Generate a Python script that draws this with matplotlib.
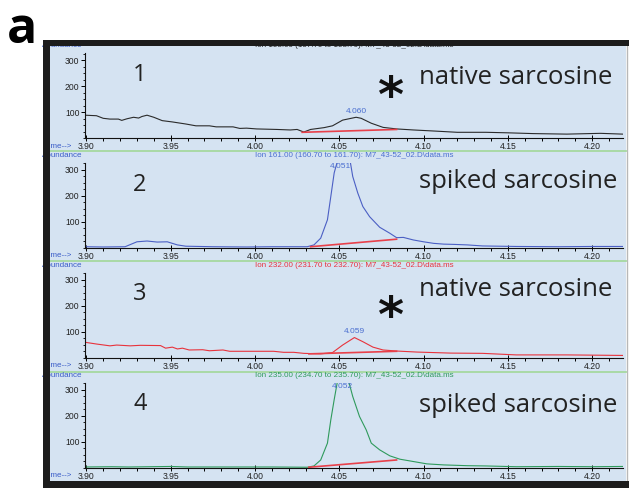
import matplotlib
matplotlib.use("Agg")
import matplotlib.pyplot as plt
from matplotlib.patches import Rectangle
from matplotlib.lines import Line2D
from matplotlib.ticker import MultipleLocator

# extracted ion chromatograms (retention time in min, abundance)
rt_158 = [3.899, 3.906, 3.910, 3.914, 3.919, 3.921, 3.924, 3.928, 3.931, 3.933,
          3.936, 3.940, 3.945, 3.951, 3.959, 3.965, 3.973, 3.977, 3.987, 3.991,
          3.995, 4.001, 4.013, 4.021, 4.025, 4.029, 4.033, 4.041, 4.046, 4.052,
          4.060, 4.063, 4.069, 4.076, 4.084, 4.094, 4.106, 4.120, 4.137, 4.150,
          4.165, 4.185, 4.205, 4.218]
ab_158 = [88, 86, 76, 73, 73, 68, 74, 80, 77, 83,
          88, 80, 67, 62, 54, 47, 47, 43, 43, 37,
          38, 35, 33, 31, 33, 23, 33, 40, 47, 69,
          80, 76, 57, 41, 35, 31, 27, 22, 22, 20,
          17, 15, 18, 15]

rt_161 = [3.899, 3.910, 3.923, 3.930, 3.936, 3.942, 3.948, 3.954, 3.959, 3.975,
          3.995, 4.010, 4.031, 4.035, 4.039, 4.043, 4.045, 4.047, 4.049, 4.051,
          4.054, 4.0565, 4.058, 4.061, 4.064, 4.068, 4.074, 4.080, 4.084, 4.088,
          4.094, 4.100, 4.106, 4.112, 4.118, 4.126, 4.135, 4.155, 4.180, 4.200,
          4.218]
ab_161 = [3, 2, 3, 22, 25, 21, 22, 10, 5, 3,
          2, 3, 3, 10, 36, 107, 197, 288, 335, 360,
          350, 332, 274, 210, 158, 119, 78, 55, 38, 39,
          29, 22, 16, 13, 12, 10, 6, 4, 3, 4,
          4]

rt_232 = [3.899, 3.906, 3.914, 3.918, 3.926, 3.932, 3.944, 3.947, 3.951, 3.954,
          3.957, 3.961, 3.969, 3.973, 3.981, 3.985, 4.011, 4.017, 4.023, 4.029,
          4.039, 4.046, 4.052, 4.059, 4.064, 4.070, 4.076, 4.084, 4.096, 4.116,
          4.135, 4.155, 4.185, 4.218]
ab_232 = [59, 52, 45, 48, 45, 47, 46, 36, 40, 33,
          36, 29, 30, 26, 29, 24, 24, 20, 20, 16,
          14, 19, 48, 77, 61, 40, 29, 25, 21, 17,
          16, 10, 10, 8]

rt_235 = [3.899, 3.915, 3.925, 3.950, 3.960, 3.990, 4.010, 4.031, 4.035, 4.039,
          4.043, 4.045, 4.047, 4.049, 4.052, 4.0555, 4.058, 4.062, 4.066, 4.069,
          4.074, 4.080, 4.086, 4.094, 4.102, 4.112, 4.126, 4.137, 4.155, 4.180,
          4.200, 4.218]
ab_235 = [2, 3, 2, 4, 2, 2, 2, 1, 6, 29,
          94, 184, 262, 335, 360, 335, 274, 197, 145, 94,
          68, 45, 32, 23, 14, 10, 7, 6, 3, 4,
          3, 4]

ions = ["158.00 (157.70 to 158.70)", "161.00 (160.70 to 161.70)",
        "232.00 (231.70 to 232.70)", "235.00 (234.70 to 235.70)"]
peak_rt = [4.060, 4.051, 4.059, 4.052]
# integration baselines under each peak: (start rt, end rt), (start ab, end ab)
base_rt = [(4.028, 4.084), (4.033, 4.084), (4.032, 4.084), (4.032, 4.084)]
base_ab = [(22, 33), (3, 32), (14, 24), (1, 29)]
names = ["native sarcosine", "spiked sarcosine", "native sarcosine", "spiked sarcosine"]
marked = [True, False, True, False]
time_ticks = [3.90, 3.95, 4.00, 4.05, 4.10, 4.15, 4.20]
ab_ticks = [100, 200, 300]

traces = [(rt_158, ab_158), (rt_161, ab_161), (rt_232, ab_232), (rt_235, ab_235)]
trace_colors = ["#2b2b2b", "#4b5fc4", "#e8333c", "#2f9a5c"]
head_colors = ["#222222", "#4b6fd0", "#e8333c", "#2f9a5c"]
label_dy = [4.5, -3, 4, -3]   # rt label offset from peak top, points
name_rise = [54, 60, 61, 56]  # baseline of the big caption above the x axis, px
bg = "#d5e3f2"
narrow = ["Liberation Sans Narrow", "Liberation Sans", "DejaVu Sans"]
big = ["Open Sans", "DejaVu Sans"]

W, H = 629, 488
fig = plt.figure(figsize=(W / 100, H / 100), dpi=100)


def fx(px):
    return px / W


def fy(py):
    return 1 - py / H


def rect(x0, y0, x1, y1, color, z):
    fig.add_artist(Rectangle((fx(x0), fy(y1)), fx(x1) - fx(x0), fy(y0) - fy(y1),
                             transform=fig.transFigure, facecolor=color,
                             edgecolor="none", zorder=z))


# screen background and black frame
rect(50, 46, 626, 481, bg, -2)
fig.add_artist(Line2D([fx(626.5)] * 2, [fy(46), fy(481)], color="#b8b8b8", lw=1,
                      transform=fig.transFigure, zorder=-1))
rect(43, 40, 629, 46, "#1c1c1c", 20)
rect(43, 40, 50, 488, "#1c1c1c", 20)
rect(43, 481, 629, 488, "#1c1c1c", 20)

fig.text(fx(22), fy(30), "a", fontsize=36, fontweight="bold", family=big,
         ha="center", va="center", color="black")

bottoms = [138, 247.5, 357.5, 467.5]
ax_h = 85
ax_l, ax_r = 85, 623
seps = [150.7, 260.7, 371.7]

for y in seps:
    fig.add_artist(Line2D([fx(50), fx(626)], [fy(y)] * 2, color="#a6d9a0", lw=1.3,
                          transform=fig.transFigure, zorder=-1))

for i, (rt, ab) in enumerate(traces):
    b = bottoms[i]
    ax = fig.add_axes([fx(ax_l), fy(b), fx(ax_r) - fx(ax_l), ax_h / H])
    ax.set_facecolor("none")
    ax.set_xlim(3.8992, 4.2183)
    ax.set_ylim(0, 328)
    for s in ("top", "right"):
        ax.spines[s].set_visible(False)
    for s in ("left", "bottom"):
        ax.spines[s].set_linewidth(0.8)
        ax.spines[s].set_color("#111111")

    ax.plot(rt, ab, color=trace_colors[i], lw=0.8)
    ax.plot(base_rt[i], base_ab[i], color="#e8404a", lw=1.2)

    ax.set_xticks(time_ticks, [f"{t:.2f}" for t in time_ticks])
    ax.set_yticks(ab_ticks, [str(v) for v in ab_ticks])
    ax.xaxis.set_minor_locator(MultipleLocator(0.01))
    ax.yaxis.set_minor_locator(MultipleLocator(25))
    ax.tick_params(axis="x", which="major", direction="inout", length=5, width=0.7,
                   pad=0.5, labelsize=6.2, labelcolor="#222222")
    ax.tick_params(axis="x", which="minor", direction="out", length=2.5, width=0.7)
    ax.tick_params(axis="y", which="major", direction="out", length=3, width=0.7,
                   pad=1, labelsize=6.2, labelcolor="#222222")
    ax.tick_params(axis="y", which="minor", direction="out", length=1.8, width=0.6)
    for lab in ax.get_xticklabels() + ax.get_yticklabels():
        lab.set_family(narrow)

    # peak retention time label
    pk = ab[rt.index(peak_rt[i])]
    ax.annotate(f"{peak_rt[i]:.3f}", (peak_rt[i], min(pk, 328)),
                xytext=(0, label_dy[i]), textcoords="offset points",
                ha="center", va="center", fontsize=6, family=narrow,
                color="#4b6fd0", annotation_clip=False)

    # window header lines
    top = b - ax_h
    fig.text(fx(42), fy(top - 7), "Abundance", fontsize=5.8, family=narrow,
             color="#3a5cc8", ha="left", va="center")
    fig.text(fx(354), fy(top - 7), f"Ion {ions[i]}: M7_43-52_02.D\\data.ms",
             fontsize=5.8, family=narrow, color=head_colors[i], ha="center", va="center")
    fig.text(fx(45), fy(b + 8), "Time-->", fontsize=5.8, family=narrow,
             color="#3a5cc8", ha="left", va="center")

    # panel annotations
    fig.text(fx(140), fy(b - 63), str(i + 1), fontsize=17, family=big,
             color="#222222", ha="center", va="center")
    fig.text(fx(419), fy(b - name_rise[i]), names[i], fontsize=18.5,
             family=big, color="#222222", ha="left", va="baseline")
    if marked[i]:
        fig.text(fx(390), fy(b - 40), "*", fontsize=36, fontweight="bold",
                 family="DejaVu Sans", color="#111111", ha="center", va="center")

fig.savefig("out.png", dpi=100)
